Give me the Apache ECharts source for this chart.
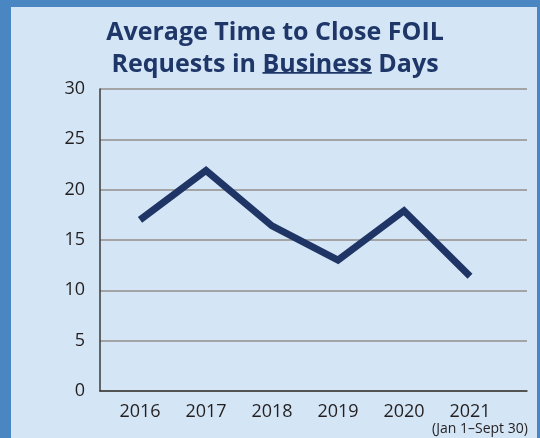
<!DOCTYPE html>
<html><head><meta charset="utf-8">
<script src="https://cdn.jsdelivr.net/npm/echarts@6/dist/echarts.min.js"></script>
<style>html,body{margin:0;padding:0;background:#4a86c2;}#c{width:540px;height:438px;}</style>
</head><body><div id="c"></div>
<script>
const titleLine1 = 'Average Time to Close FOIL';
const titlePre = 'Requests in ';
const titleUnderlined = 'Business';
const titlePost = ' Days';
const years = ['2016', '2017', '2018', '2019', '2020', '2021'];
const avgDays = [17, 21.9, 16.4, 13, 17.9, 11.4];
const yTicks = { min: 0, max: 30, interval: 5 };
const note2021 = '(Jan 1–Sept 30)';

const FONT = 'Open Sans';
const TITLE_SIZE = 25;
const TITLE_CX = 275;

function render() {
  const cv = document.createElement('canvas').getContext('2d');
  cv.font = 'bold ' + TITLE_SIZE + 'px "' + FONT + '"';
  const wPre = cv.measureText(titlePre).width;
  const wU = cv.measureText(titleUnderlined).width;
  const wAll = cv.measureText(titlePre + titleUnderlined + titlePost).width;
  const uX = TITLE_CX - wAll / 2 + wPre;

  const chart = echarts.init(document.getElementById('c'), null, { renderer: 'canvas' });
  chart.setOption({
    backgroundColor: '#4a86c2',
    animation: false,
    graphic: [
      { type: 'rect', z: -10, shape: { x: 11, y: 7, width: 526, height: 440 }, style: { fill: '#d4e5f5' } },
      { type: 'rect', z: 10, shape: { x: uX, y: 72, width: wU, height: 1.8 }, style: { fill: '#1f3768' } }
    ],
    title: {
      text: titleLine1 + '\n' + titlePre + titleUnderlined + titlePost,
      left: TITLE_CX, top: 16.5, textAlign: 'center', padding: 0,
      textStyle: { fontFamily: FONT, fontWeight: 'bold', fontSize: TITLE_SIZE, color: '#1f3768', lineHeight: 32 }
    },
    grid: [
      { left: 100, right: 13, top: 89, bottom: 47, outerBoundsMode: 'none', containLabel: false },
      { left: 107, width: 396, top: 89, bottom: 47, outerBoundsMode: 'none', containLabel: false }
    ],
    xAxis: [
      { gridIndex: 0, type: 'value', min: 0, max: 1,
        axisLine: { show: true, lineStyle: { color: '#3a3a3a', width: 1.5 } },
        axisTick: { show: false }, axisLabel: { show: false }, splitLine: { show: false } },
      { gridIndex: 1, type: 'category', data: years, boundaryGap: true,
        axisLine: { show: false }, axisTick: { show: false },
        axisLabel: { interval: 0, margin: 11, fontFamily: FONT, fontSize: 18, color: '#231f20', lineHeight: 20,
          formatter: v => v === '2021' ? v + '\n{s|' + note2021 + '}' : v,
          rich: { s: { fontFamily: FONT, fontSize: 14, color: '#231f20', lineHeight: 14, padding: [0, 0, 0, 20] } } } }
    ],
    yAxis: [
      { gridIndex: 0, type: 'value', min: yTicks.min, max: yTicks.max, interval: yTicks.interval,
        axisLine: { show: true, lineStyle: { color: '#3a3a3a', width: 1.5 } },
        axisTick: { show: false },
        axisLabel: { margin: 15, fontFamily: FONT, fontSize: 18, color: '#231f20' },
        splitLine: { show: true, lineStyle: { color: '#a2a4a6', width: 2 } } },
      { gridIndex: 1, type: 'value', min: yTicks.min, max: yTicks.max, interval: yTicks.interval, show: false }
    ],
    series: [{
      type: 'line', xAxisIndex: 1, yAxisIndex: 1, data: avgDays,
      symbol: 'none', lineStyle: { color: '#1f3566', width: 7, join: 'miter', cap: 'butt' }
    }]
  });
}
if (document.fonts && document.fonts.load) {
  Promise.all([
    document.fonts.load('bold ' + TITLE_SIZE + 'px "' + FONT + '"'),
    document.fonts.load('18px "' + FONT + '"')
  ]).then(render, render);
} else { render(); }
</script></body></html>
